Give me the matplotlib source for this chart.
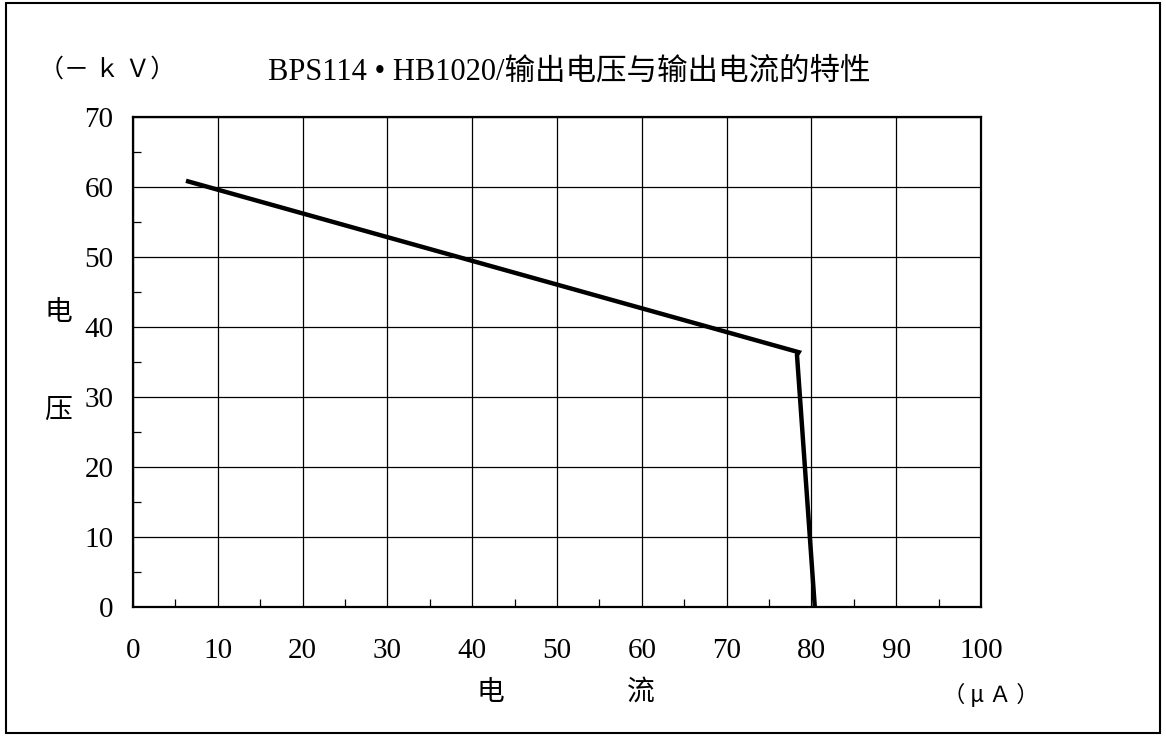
import matplotlib
matplotlib.use('Agg')
import matplotlib.pyplot as plt
from matplotlib.patches import Rectangle

plt.rcParams['font.family'] = ['Liberation Serif', 'Noto Sans CJK SC', 'DejaVu Sans']
CJK = ['Noto Sans CJK SC', 'DejaVu Sans']

# 输出电流 (μA) 与输出电压 (-kV)
current = [6.5, 78.5, 78.3, 80.4]
voltage = [60.8, 36.4, 36.0, 0.0]

x_ticks = [0, 10, 20, 30, 40, 50, 60, 70, 80, 90, 100]
y_ticks = [0, 10, 20, 30, 40, 50, 60, 70]

W, H = 1166, 736
fig = plt.figure(figsize=(W / 100, H / 100), dpi=100)

# 外框
fig.patches.append(Rectangle((6 / W, 3 / H), 1154 / W, 730 / H, transform=fig.transFigure,
                             fill=False, edgecolor='black', linewidth=1.5))

ax = fig.add_axes([133 / W, 1 - 607 / H, (981 - 133) / W, (607 - 117) / H])
ax.plot(current, voltage, color='black', linewidth=3.2, solid_joinstyle='miter')

ax.set_xlim(0, 100)
ax.set_ylim(0, 70)
ax.set_xticks(x_ticks)
ax.set_yticks(y_ticks)
ax.set_xticks([5, 15, 25, 35, 45, 55, 65, 75, 85, 95], minor=True)
ax.set_yticks([5, 15, 25, 35, 45, 55, 65], minor=True)
ax.grid(True, which='major', color='black', linewidth=0.9)
ax.tick_params(which='major', length=0, labelsize=21, pad=14)
ax.tick_params(axis='x', which='major', pad=22)
ax.tick_params(which='minor', direction='in', length=6, width=0.9, color='black')
for s in ax.spines.values():
    s.set_linewidth(1.6)

def ftext(x, y, s, size=20, family=None):
    fig.text(x / W, 1 - y / H, s, fontsize=size, ha='center', va='center', family=family)

ftext(569, 72, 'BPS114 • HB1020/输出电压与输出电流的特性', 22)
ftext(107, 70, '（－ ｋ Ｖ）', 18, CJK)
ftext(58, 312, '电', 20, CJK)
ftext(58, 410, '压', 20, CJK)
ftext(490, 692, '电', 20, CJK)
ftext(641, 692, '流', 20, CJK)
ftext(991, 695, '（ μ Ａ ）', 16, CJK)

plt.savefig('out.png', dpi=100)
